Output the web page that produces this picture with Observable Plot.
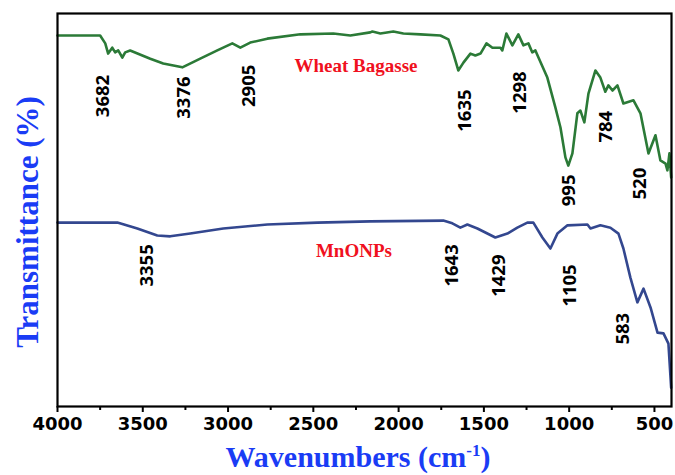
<!DOCTYPE html>
<html>
<head>
<meta charset="utf-8">
<script src="https://cdn.jsdelivr.net/npm/d3@7"></script>
<script src="https://cdn.jsdelivr.net/npm/@observablehq/plot@0.6"></script>
<style>
  html, body { margin: 0; padding: 0; background: #fff; }
  #chart { width: 675px; height: 475px; }
</style>
</head>
<body>
<div id="chart"></div>
<script>
// Wheat Bagasse FTIR spectrum (wavenumber cm-1, transmittance, arbitrary offset units)
const bagasseWn = [4000, 3750, 3720, 3703, 3679, 3662, 3644, 3620, 3603, 3574, 3456, 3380, 3268, 3163, 3063, 2975, 2928, 2870, 2770, 2576, 2383, 2283, 2166, 2154, 2107, 2031, 1972, 1872, 1755, 1708, 1679, 1650, 1620, 1579, 1550, 1520, 1485, 1450, 1403, 1392, 1368, 1333, 1298, 1268, 1239, 1216, 1198, 1180, 1128, 1081, 1051, 1022, 1005, 981, 952, 934, 911, 887, 846, 817, 788, 770, 746, 717, 682, 623, 582, 535, 494, 465, 435, 424, 412, 402];
const bagasseT  = [94.4, 94.4, 92.4, 89.8, 91.3, 90.1, 90.6, 88.8, 90.1, 90.6, 88.5, 87.3, 86.3, 88.5, 90.6, 92.4, 91.3, 92.6, 93.6, 94.7, 94.9, 94.4, 95.2, 95.4, 94.9, 95.4, 94.9, 94.7, 94.4, 93.4, 89.8, 85.5, 87.5, 89.8, 89.3, 89.8, 92.4, 91.3, 91.3, 90.6, 94.9, 91.9, 94.7, 91.9, 92.4, 90.1, 90.6, 88.8, 83.7, 76.1, 71.0, 63.4, 61.3, 64.4, 74.6, 75.3, 72.3, 79.6, 85.5, 83.7, 80.1, 81.7, 80.4, 81.7, 77.1, 77.9, 74.6, 64.4, 69.0, 62.6, 61.8, 60.1, 64.4, 58.3];

// MnONPs FTIR spectrum
const mnoWn = [4000, 3691, 3649, 3532, 3415, 3339, 3222, 3028, 2770, 2477, 2166, 1738, 1685, 1638, 1597, 1538, 1433, 1362, 1304, 1245, 1210, 1157, 1110, 1069, 1010, 893, 875, 817, 758, 711, 682, 641, 600, 564, 523, 482, 447, 418, 402];
const mnoT  = [46.8, 46.8, 46.8, 45.3, 43.5, 43.3, 44.0, 45.3, 46.3, 46.8, 47.1, 47.3, 46.6, 45.5, 46.3, 45.3, 43.0, 44.0, 45.5, 46.8, 46.8, 43.0, 40.2, 44.0, 46.1, 46.3, 45.3, 46.1, 45.5, 44.0, 40.2, 32.8, 26.5, 30.0, 25.2, 18.8, 18.6, 16.0, 4.8];

// Peak annotations (label, position in wavenumber, position in transmittance)
const peakLabels = ["3682", "3376", "2905", "1635", "1298", "995", "784", "520", "3355", "1643", "1429", "1105", "583"];
const peakWn     = [3732, 3260, 2878, 1612, 1290, 998, 784, 586, 3474, 1685, 1413, 992, 683];
const peakT      = [79.0, 78.6, 81.6, 75.3, 79.9, 55.0, 71.2, 56.7, 35.9, 35.9, 33.3, 30.8, 19.8];

// Series labels
const seriesNames = ["Wheat Bagasse", "MnONPs"];
const seriesWn    = [2250, 2262];
const seriesT     = [86.6, 39.6];

// Axis ticks
const majorTicks = [4000, 3500, 3000, 2500, 2000, 1500, 1000, 500];
const minorTicks = [3750, 3250, 2750, 2250, 1750, 1250, 750];

const bagasse = bagasseWn.map((w, i) => ({w, t: bagasseT[i]}));
const mno = mnoWn.map((w, i) => ({w, t: mnoT[i]}));
const peaks = peakLabels.map((label, i) => ({label, w: peakWn[i], t: peakT[i]}));
const series = seriesNames.map((name, i) => ({name, w: seriesWn[i], t: seriesT[i]}));

const svg = Plot.plot({
  width: 675,
  height: 475,
  marginLeft: 57,
  marginRight: 4,
  marginTop: 13,
  marginBottom: 69,
  style: {background: "#fff"},
  x: {domain: [4000, 400]},
  y: {domain: [0, 100], axis: null},
  marks: [
    Plot.line(bagasse, {x: "w", y: "t", stroke: "#2b7a37", strokeWidth: 2.6}),
    Plot.line(mno, {x: "w", y: "t", stroke: "#33478f", strokeWidth: 2.6}),
    Plot.text(peaks, {x: "w", y: "t", text: "label", rotate: -90, fontFamily: "Open Sans", fontWeight: "bold", fontSize: 18.5, fill: "#000"}),
    Plot.text(series, {x: "w", y: "t", text: "name", fontFamily: "Liberation Serif", fontWeight: "bold", fontSize: 19, fill: "#f01020"}),
    Plot.axisX(minorTicks, {tickSize: 4, strokeWidth: 2, text: null, label: null}),
    Plot.axisX(majorTicks, {tickSize: 6, strokeWidth: 2, tickPadding: 5, label: null, fontFamily: "DejaVu Sans", fontWeight: "bold", fontSize: 18, fill: "#000", tickFormat: d => String(d)}),
    Plot.frame({stroke: "#000", strokeWidth: 2.2})
  ]
});

const s = d3.select(svg);
// x-axis title with superscript
const xt = s.append("text")
  .attr("x", 358).attr("y", 467)
  .attr("text-anchor", "middle")
  .attr("font-family", "Liberation Serif").attr("font-weight", "bold")
  .attr("font-size", 30).attr("fill", "#1a3cf5");
xt.append("tspan").text("Wavenumbers (cm");
xt.append("tspan").attr("font-size", 17).attr("dy", -11).text("-1");
xt.append("tspan").attr("dy", 11).text(")");
// y-axis title
s.append("text")
  .attr("transform", "translate(38,222) rotate(-90)")
  .attr("text-anchor", "middle")
  .attr("font-family", "Liberation Serif").attr("font-weight", "bold")
  .attr("font-size", 31).attr("fill", "#1a3cf5")
  .text("Transmittance (%)");

document.getElementById("chart").appendChild(svg);
</script>
</body>
</html>
